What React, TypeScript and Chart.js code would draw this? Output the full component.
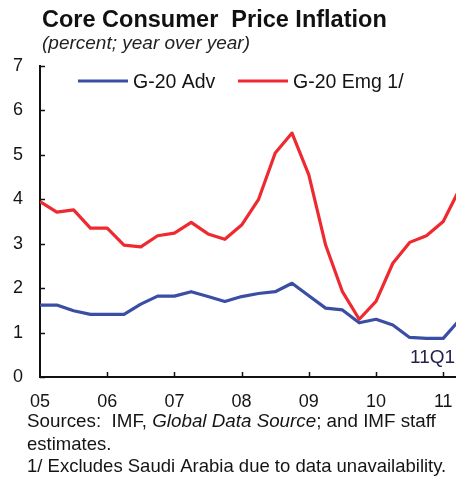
import React, { useEffect, useRef } from "react";
import { Chart, registerables } from "chart.js";

Chart.register(...registerables);

// Quarterly observations (plotted at quarter end)
const quarters = [
  "04Q4", "05Q1", "05Q2", "05Q3", "05Q4", "06Q1", "06Q2", "06Q3", "06Q4",
  "07Q1", "07Q2", "07Q3", "07Q4", "08Q1", "08Q2", "08Q3", "08Q4",
  "09Q1", "09Q2", "09Q3", "09Q4", "10Q1", "10Q2", "10Q3", "10Q4", "11Q1",
];
const advValues = [
  1.62, 1.62, 1.49, 1.41, 1.41, 1.41, 1.64, 1.82, 1.82, 1.92, 1.81, 1.7, 1.81,
  1.88, 1.92, 2.11, 1.83, 1.55, 1.51, 1.22, 1.3, 1.17, 0.89, 0.87, 0.87, 1.3,
];
const emgValues = [
  3.95, 3.71, 3.76, 3.35, 3.35, 2.97, 2.93, 3.18, 3.24, 3.48, 3.22, 3.1, 3.42,
  3.99, 5.04, 5.49, 4.55, 2.97, 1.92, 1.3, 1.7, 2.56, 3.03, 3.18, 3.5, 4.25,
];
const yearLabels = ["05", "06", "07", "08", "09", "10", "11"];
const yTickValues = [0, 1, 2, 3, 4, 5, 6, 7];
const seriesNames = ["G-20 Adv", "G-20 Emg 1/"];
const lastLabel = "11Q1";

const FONT = '"Liberation Sans", Arial, Helvetica, sans-serif';
const BLUE = "#3a4ea4";
const RED = "#ee2a30";
const TEXT = "#141414";

const decorPlugin = {
  id: "decor",
  afterDraw(chart: any) {
    const ctx = chart.ctx as CanvasRenderingContext2D;
    const area = chart.chartArea;
    const xs = chart.scales.x;
    const ys = chart.scales.y;
    ctx.save();
    // inward tick marks
    ctx.strokeStyle = "#111";
    ctx.lineWidth = 1.5;
    ctx.beginPath();
    yTickValues.forEach((v) => {
      const py = Math.round(ys.getPixelForValue(v)) + 0.5;
      ctx.moveTo(area.left, py);
      ctx.lineTo(area.left + 5, py);
    });
    yearLabels.forEach((_, i) => {
      if (i === 0) return;
      const px = Math.round(xs.getPixelForValue(i * 4)) + 0.5;
      ctx.moveTo(px, area.bottom);
      ctx.lineTo(px, area.bottom - 5);
    });
    ctx.stroke();

    // title & subtitle
    ctx.fillStyle = "#111";
    ctx.textBaseline = "alphabetic";
    ctx.textAlign = "left";
    ctx.font = `bold 23.5px ${FONT}`;
    ctx.fillText("Core Consumer  Price Inflation", 42, 27);
    ctx.font = `italic 19px ${FONT}`;
    ctx.fillStyle = "#222";
    ctx.fillText("(percent; year over year)", 42, 49);

    // legend
    const legend = [
      { x: 78, color: BLUE, name: seriesNames[0] },
      { x: 238, color: RED, name: seriesNames[1] },
    ];
    ctx.font = `19.5px ${FONT}`;
    legend.forEach((l) => {
      ctx.strokeStyle = l.color;
      ctx.lineWidth = 3.2;
      ctx.beginPath();
      ctx.moveTo(l.x, 81);
      ctx.lineTo(l.x + 50, 81);
      ctx.stroke();
      ctx.fillStyle = TEXT;
      ctx.fillText(l.name, l.x + 55, 87.5);
    });

    // last observation label
    ctx.font = `19px ${FONT}`;
    ctx.fillStyle = "#221f48";
    ctx.fillText(lastLabel, 410, 363);

    // footer
    ctx.fillStyle = TEXT;
    const fx = 27;
    let x = fx;
    const parts: [string, boolean][] = [
      ["Sources:  IMF, ", false],
      ["Global Data Source", true],
      ["; and IMF staff", false],
    ];
    parts.forEach(([t, it]) => {
      ctx.font = `${it ? "italic " : ""}18.8px ${FONT}`;
      ctx.fillText(t, x, 427);
      x += ctx.measureText(t).width;
    });
    ctx.font = `18.5px ${FONT}`;
    ctx.fillText("estimates.", fx, 450);
    ctx.fillText("1/ Excludes Saudi Arabia due to data unavailability.", fx, 472);
    ctx.restore();
  },
};

export default function App() {
  const ref = useRef<HTMLCanvasElement | null>(null);
  useEffect(() => {
    if (!ref.current) return;
    const chart = new Chart(ref.current, {
      type: "line",
      data: {
        datasets: [
          {
            label: seriesNames[0],
            data: advValues.map((v, i) => ({ x: i, y: v })),
            borderColor: BLUE,
            borderWidth: 3.2,
            pointRadius: 0,
            tension: 0,
            borderJoinStyle: "round",
          },
          {
            label: seriesNames[1],
            data: emgValues.map((v, i) => ({ x: i, y: v })),
            borderColor: RED,
            borderWidth: 3.2,
            pointRadius: 0,
            tension: 0,
            borderJoinStyle: "round",
          },
        ],
      },
      options: {
        responsive: false,
        animation: false,
        events: [],
        layout: { padding: { top: 66, left: 0, right: 0, bottom: 0 } },
        plugins: {
          legend: { display: false },
          tooltip: { enabled: false },
          title: { display: false },
        },
        scales: {
          x: {
            type: "linear",
            min: 0,
            max: (quarters.length - 1) - 0.24,
            afterBuildTicks: (s: any) => {
              s.ticks = yearLabels.map((_, i) => ({ value: i * 4 }));
            },
            ticks: {
              callback: (v: any) => yearLabels[Math.round(Number(v) / 4)] ?? "",
              font: { family: FONT, size: 18 },
              color: TEXT,
              padding: 14,
              maxRotation: 0,
              autoSkip: false,
            },
            grid: { display: false, drawTicks: false },
            border: { display: true, color: "#111", width: 2 },
            afterFit: (s: any) => {
              s.height = 100;
              s.paddingLeft = 0;
              s.paddingRight = 0;
            },
          },
          y: {
            min: 0,
            max: 7,
            afterBuildTicks: (s: any) => {
              s.ticks = yTickValues.map((v) => ({ value: v }));
            },
            ticks: {
              font: { family: FONT, size: 18 },
              color: TEXT,
              padding: 17,
            },
            grid: { display: false, drawTicks: false },
            border: { display: true, color: "#111", width: 2 },
            afterFit: (s: any) => {
              s.width = 40;
              s.paddingTop = 0;
              s.paddingBottom = 0;
            },
          },
        },
      },
      plugins: [decorPlugin],
    } as any);
    return () => chart.destroy();
  }, []);
  return (
    <canvas
      ref={ref}
      width={456}
      height={477}
      style={{ position: "fixed", left: 0, top: 0, width: 456, height: 477, display: "block", background: "#fff" }}
    />
  );
}
